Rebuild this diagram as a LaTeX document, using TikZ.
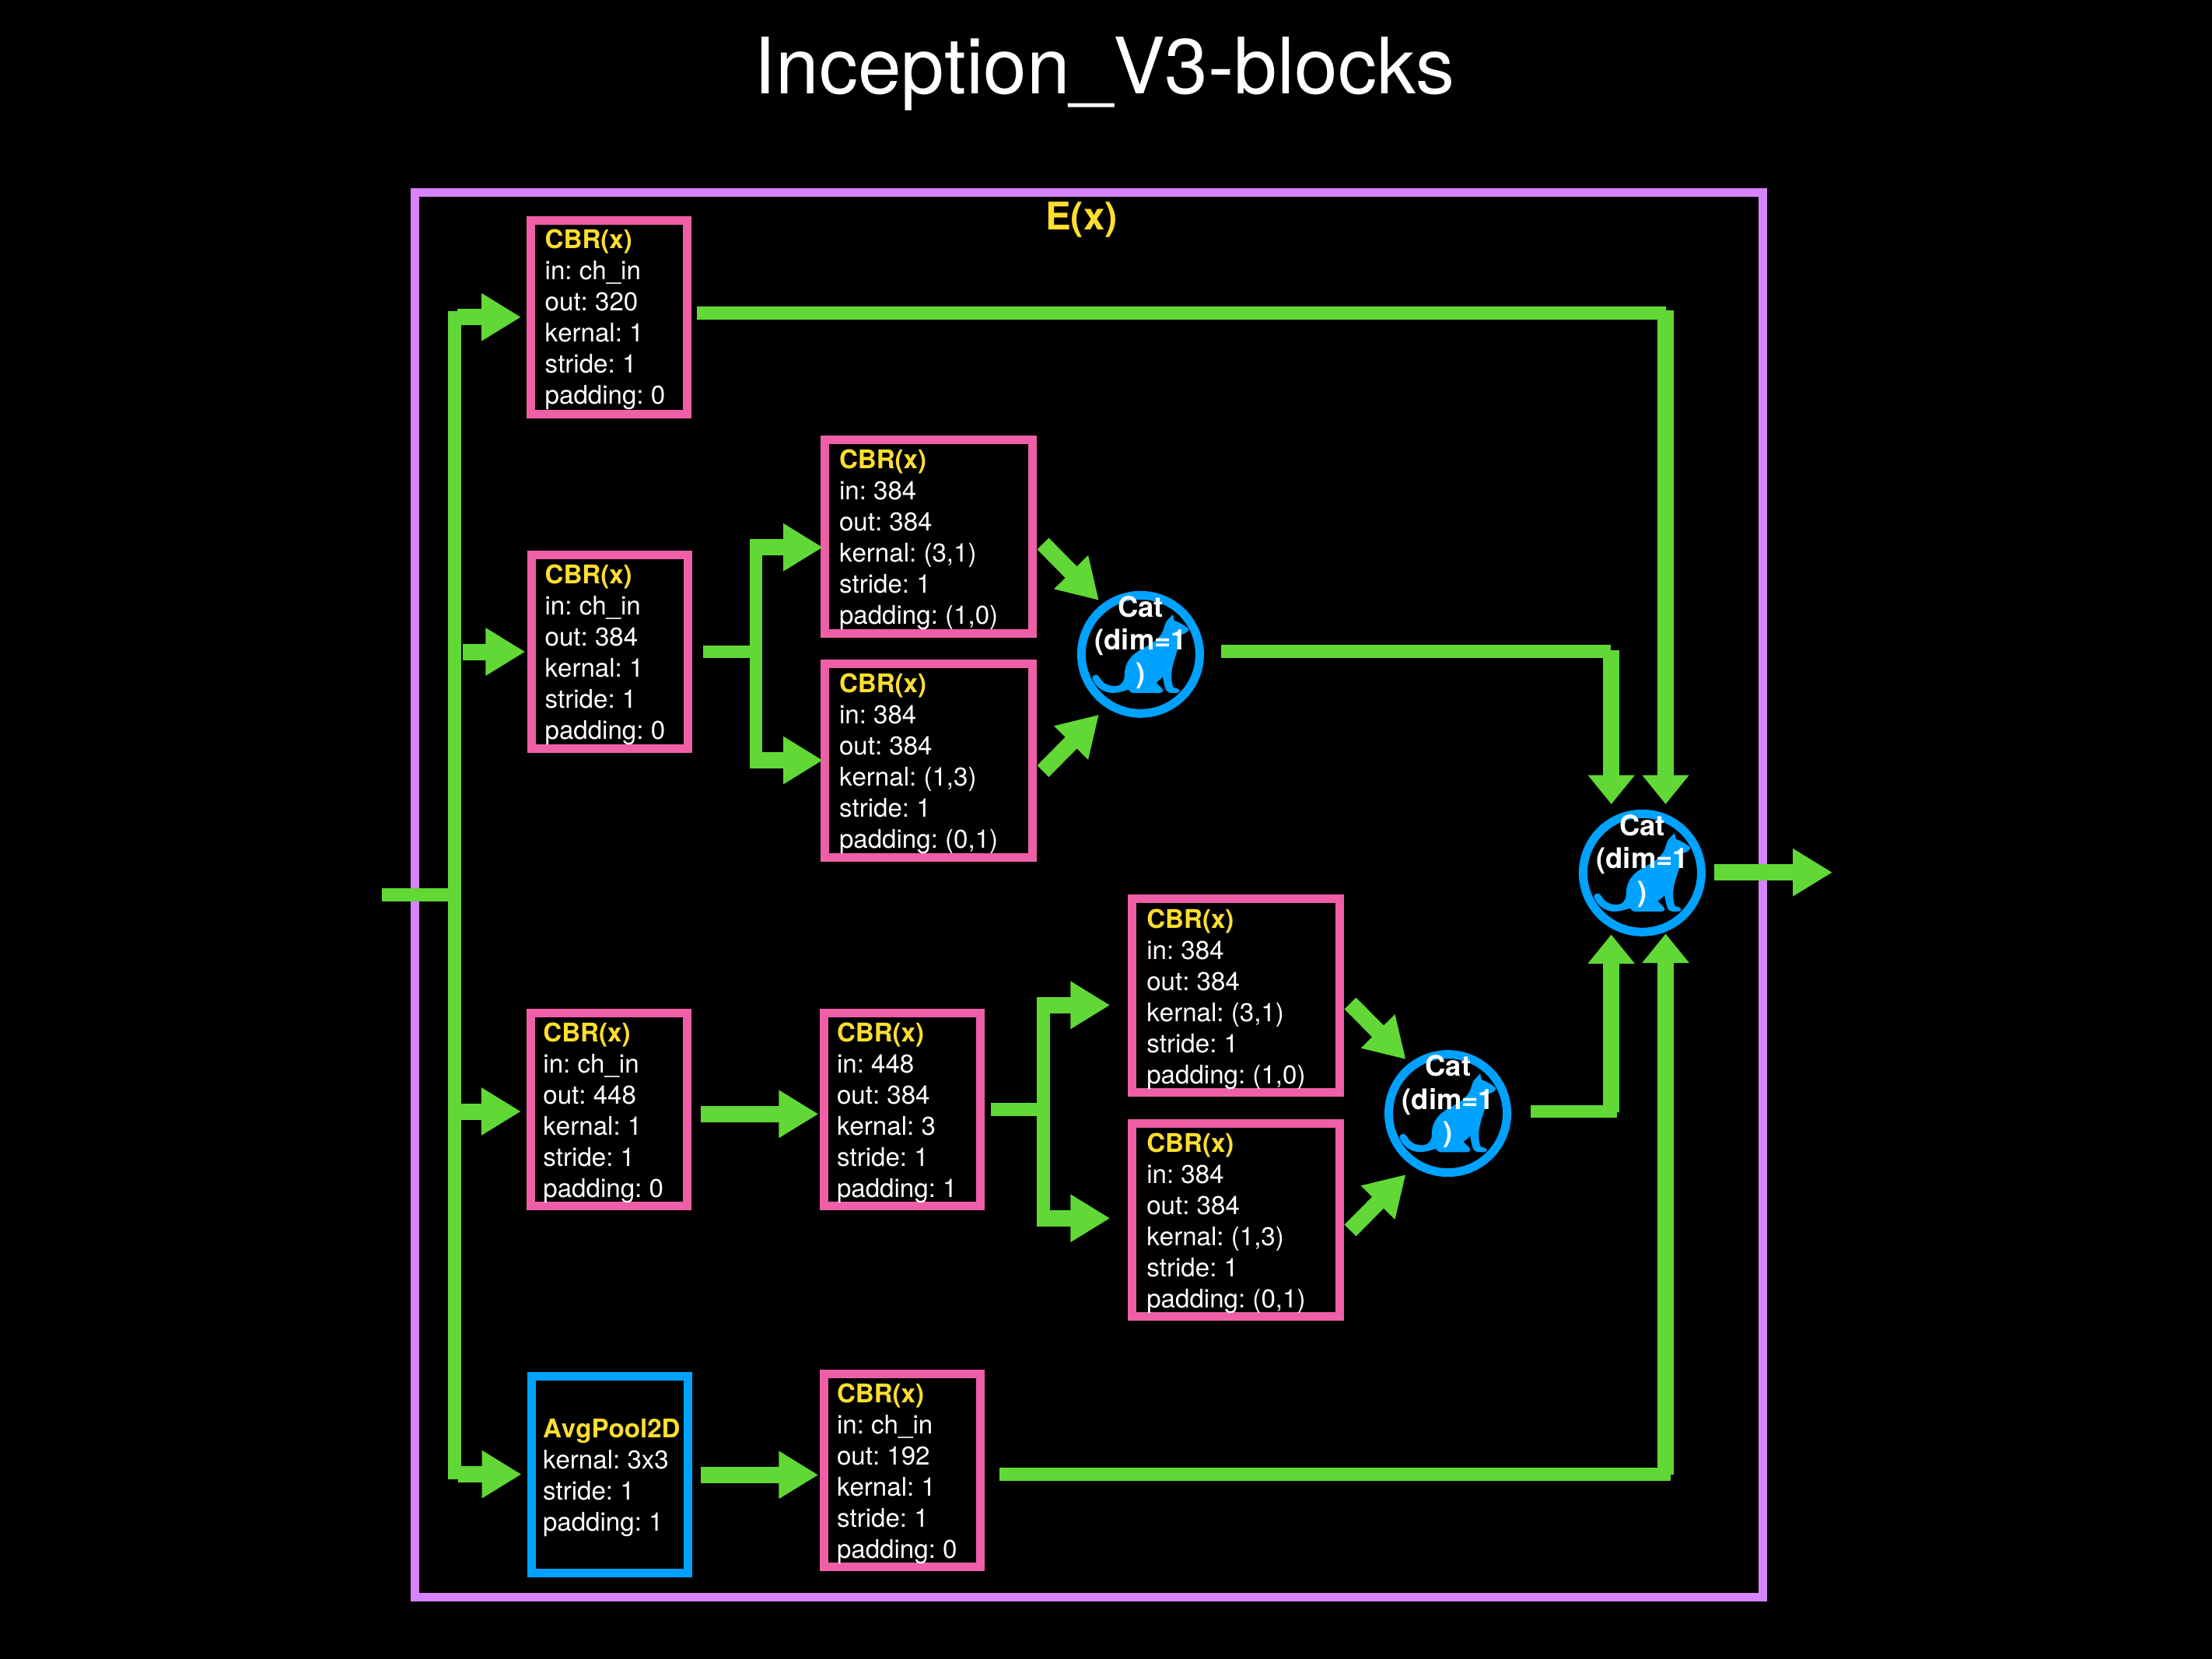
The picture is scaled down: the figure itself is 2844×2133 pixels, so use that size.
\documentclass[tikz,border=0pt]{standalone}
\usepackage{fontspec}
\setmainfont[Kerning=Off]{TeX Gyre Heros}
\usetikzlibrary{arrows.meta}
\definecolor{gr}{HTML}{61D836}
\definecolor{pk}{HTML}{EE5FA7}
\definecolor{pu}{HTML}{D883FF}
\definecolor{bl}{HTML}{00A2FF}
\definecolor{ye}{HTML}{FFDE2E}
\frenchspacing
\tikzset{
  boxnode/.style={draw,line width=11pt,rectangle,inner sep=0pt,outer sep=0pt,anchor=north west},
  pinkbox/.style={boxnode,draw=pk},
  bluebox/.style={boxnode,draw=bl},
  txt/.style={anchor=north west,inner sep=0pt,outer sep=0pt,align=left,text=white,yshift=-1.2pt,font=\fontsize{33.1}{40}\selectfont\frenchspacing},
  cattxt/.style={anchor=north,inner sep=0pt,outer sep=0pt,align=center,text=white,yshift=-1.5pt,font=\fontsize{36.4}{42.7}\selectfont\bfseries},
  catc/.style={circle,draw=bl,line width=11pt,minimum size=152pt,inner sep=0pt,outer sep=0pt},
  wire/.style={draw=gr,line width=16.7pt},
  harrow/.style={draw=gr,line width=21pt,-{Triangle[length=51pt,width=58pt,sep=0pt]}},
  varrow/.style={draw=gr,line width=21pt,-{Triangle[length=37.5pt,width=58pt,sep=0pt]}},
  cat/.pic={
    \fill[bl,xshift=-126.67pt,yshift=141.33pt,x=0.3333pt,y=-0.3333pt]
      (197,508) .. controls (205,497) and (218,505) .. (224,516)
      .. controls (238,540) and (262,548) .. (287,546)
      .. controls (305,544) and (318,530) .. (318,505)
      .. controls (318,455) and (345,425) .. (385,403)
      .. controls (420,385) and (455,365) .. (468,330)
      .. controls (472,315) and (478,295) .. (488,288)
      -- (505,270) -- (510,294)
      .. controls (530,300) and (550,312) .. (566,326)
      .. controls (566,338) and (550,344) .. (533,350)
      .. controls (530,395) and (515,425) .. (505,465)
      .. controls (497,495) and (497,530) .. (507,552)
      .. controls (520,555) and (532,558) .. (530,568)
      .. controls (528,574) and (510,574) .. (492,572)
      .. controls (478,570) and (472,550) .. (466,510)
      .. controls (458,520) and (448,528) .. (440,532)
      .. controls (448,545) and (465,552) .. (467,565)
      .. controls (466,572) and (458,573) .. (450,573)
      -- (350,573)
      .. controls (342,572) and (337,566) .. (333,560)
      .. controls (310,568) and (285,575) .. (260,572)
      .. controls (228,566) and (205,545) .. (195,520)
      .. controls (194,515) and (194,511) .. (197,508) -- cycle;
  }
}
\newcommand{\hd}[1]{\textcolor{ye}{\bfseries #1}}
\begin{document}
\begin{tikzpicture}[x=1pt,y=-1pt]
\useasboundingbox (0,0) rectangle (2844,2132.6);
\fill[black] (-5,-5) rectangle (2850,2140);
\node[anchor=base,inner sep=0pt,text=white,font=\fontsize{100}{110}\selectfont] (title) at (1420,121) {Inception\_V3-blocks};
\node[boxnode,draw=pu,minimum width=1733.5pt,minimum height=1806pt] (frame) at (533,247.5) {};
\node[anchor=base,inner sep=0pt,text=ye,font=\fontsize{49}{52}\selectfont\bfseries] (ex) at (1390.5,295) {E(x)};
% boxes
\node[pinkbox,minimum width=201pt,minimum height=248.5pt] (b1) at (682.5,283.5) {};
\node[pinkbox,minimum width=201pt,minimum height=248.5pt] (b2) at (683,713.5) {};
\node[pinkbox,minimum width=267pt,minimum height=248.5pt] (b3) at (1060.5,565.5) {};
\node[pinkbox,minimum width=267pt,minimum height=248.5pt] (b4) at (1060.5,853.5) {};
\node[pinkbox,minimum width=201pt,minimum height=248pt] (b5) at (682,1302.8) {};
\node[pinkbox,minimum width=201pt,minimum height=248pt] (b6) at (1059.5,1302.8) {};
\node[pinkbox,minimum width=267pt,minimum height=248.5pt] (b7) at (1455.3,1155.8) {};
\node[pinkbox,minimum width=267pt,minimum height=248pt] (b8) at (1455.3,1444) {};
\node[bluebox,minimum width=201pt,minimum height=252.5pt] (avg) at (683,1769.5) {};
\node[pinkbox,minimum width=200.5pt,minimum height=248pt] (b10) at (1059.5,1766.5) {};
% box texts
\node[txt] (t1) at (700.7,290) {\strut\hd{CBR(x)}\\in: ch\_in\\out: 320\\kernal: 1\\stride: 1\\padding: 0};
\node[txt] (t2) at (700.6,721) {\strut\hd{CBR(x)}\\in: ch\_in\\out: 384\\kernal: 1\\stride: 1\\padding: 0};
\node[txt] (t3) at (1079,573) {\strut\hd{CBR(x)}\\in: 384\\out: 384\\kernal: (3,1)\\stride: 1\\padding: (1,0)};
\node[txt] (t4) at (1079,861) {\strut\hd{CBR(x)}\\in: 384\\out: 384\\kernal: (1,3)\\stride: 1\\padding: (0,1)};
\node[txt] (t5) at (698.4,1310) {\strut\hd{CBR(x)}\\in: ch\_in\\out: 448\\kernal: 1\\stride: 1\\padding: 0};
\node[txt] (t6) at (1076,1310) {\strut\hd{CBR(x)}\\in: 448\\out: 384\\kernal: 3\\stride: 1\\padding: 1};
\node[txt] (t7) at (1474.3,1164) {\strut\hd{CBR(x)}\\in: 384\\out: 384\\kernal: (3,1)\\stride: 1\\padding: (1,0)};
\node[txt] (t8) at (1474.3,1452) {\strut\hd{CBR(x)}\\in: 384\\out: 384\\kernal: (1,3)\\stride: 1\\padding: (0,1)};
\node[txt] (t9) at (698,1819.3) {\strut\hd{AvgPool2D}\\kernal: 3x3\\stride: 1\\padding: 1};
\node[txt] (t10) at (1076,1774.7) {\strut\hd{CBR(x)}\\in: ch\_in\\out: 192\\kernal: 1\\stride: 1\\padding: 0};
% cats
\node[catc] (c1) at (1466.4,841.3) {};
\node[catc] (c2) at (1861.5,1431.6) {};
\node[catc] (c3) at (2111.4,1122.3) {};
\pic at (c1) {cat};
\pic at (c2) {cat};
\pic at (c3) {cat};
% junction coordinates
\coordinate (in) at (491,1150.8);
\coordinate (mt) at (584.7,400.3);
\coordinate (mb) at (584.7,1901.7);
\coordinate (a1) at (670,407.7);
\coordinate (a2) at (675.4,838);
\coordinate (a5) at (669.8,1429);
\coordinate (a9) at (670.6,1895.5);
% connectors
\draw[wire] (in) -- (584.7,1150.8);
\draw[wire,line cap=butt] (mt) -- (mb);
\draw[harrow] (588.3,407.7) -- (a1);
\draw[harrow] (595,838) -- (a2);
\draw[harrow] (592,1429) -- (a5);
\draw[harrow] (589,1895.5) -- (a9);
% box1 to final cat
\draw[wire] (896,402.7) -- (2142,402.7);
\draw[varrow] (2141.5,399) -- (2141.5,1034);
% box2 fork
\draw[wire] (903.7,838) -- (972,838);
\draw[wire] (972,693) -- (972,988);
\draw[harrow] (963.6,703.7) -- (1058,703.7);
\draw[harrow] (963.6,977.5) -- (1058,977.5);
% to cat 1
\coordinate (s1) at (1341,699);
\coordinate (e1) at (1412.9,771.9);
\coordinate (s2) at (1341,991.6);
\coordinate (e2) at (1412.9,918.8);
\draw[harrow] (s1) -- (e1);
\draw[harrow] (s2) -- (e2);
% cat 1 to final
\draw[wire] (1569.5,837.6) -- (2071,837.6);
\draw[varrow] (2071.7,836) -- (2071.7,1034);
% box 5 chain
\draw[harrow] (901,1432.3) -- (1052.4,1432.3);
\draw[wire] (1273.7,1426.7) -- (1341.7,1426.7);
\draw[wire] (1341.7,1282) -- (1341.7,1576.6);
\draw[harrow] (1333.5,1292.3) -- (1427.3,1292.3);
\draw[harrow] (1333.5,1566.3) -- (1427.3,1566.3);
\coordinate (s7) at (1736,1290);
\coordinate (e7) at (1807.5,1362);
\coordinate (s8) at (1736,1582);
\coordinate (e8) at (1807.5,1510);
\draw[harrow] (s7) -- (e7);
\draw[harrow] (s8) -- (e8);
% cat 2 to final
\draw[wire] (1967.6,1429) -- (2079,1429);
\draw[varrow] (2071.6,1429.7) -- (2071.6,1201.5);
% avg chain
\draw[harrow] (900.8,1896.3) -- (1052.3,1896.3);
\draw[wire] (1284.8,1895.7) -- (2148.3,1895.7);
\draw[varrow] (2141.5,1896) -- (2141.5,1200.5);
% output
\draw[harrow] (2204,1121.7) -- (2356,1121.7);
% cat labels on top
\node[cattxt] (l1) at (1466.7,761.8) {\strut Cat\\(dim=1\\)};
\node[cattxt] (l2) at (1861.8,1352.1) {\strut Cat\\(dim=1\\)};
\node[cattxt] (l3) at (2111.7,1042.8) {\strut Cat\\(dim=1\\)};
\end{tikzpicture}
\end{document}
